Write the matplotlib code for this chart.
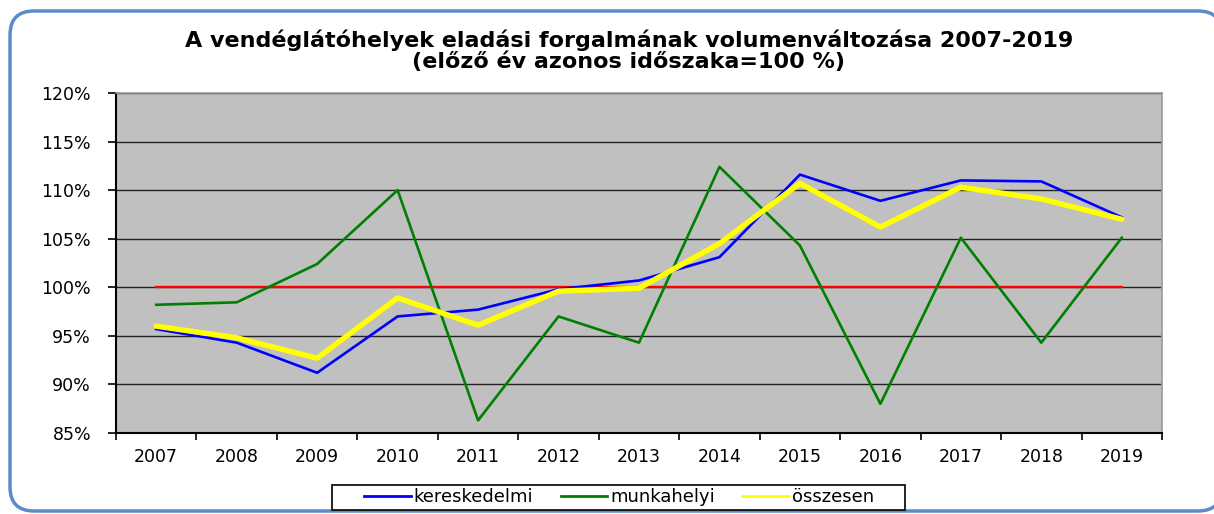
import matplotlib
matplotlib.use("Agg")
import matplotlib.pyplot as plt
from matplotlib.patches import FancyBboxPatch, Rectangle
from matplotlib.ticker import FixedLocator, FuncFormatter

years = ["2007", "2008", "2009", "2010", "2011", "2012", "2013",
         "2014", "2015", "2016", "2017", "2018", "2019"]
kereskedelmi = [95.7, 94.3, 91.2, 97.0, 97.7, 99.8, 100.7, 103.1, 111.6, 108.9, 111.0, 110.9, 107.2]
munkahelyi = [98.2, 98.45, 102.4, 110.0, 86.3, 97.0, 94.3, 112.4, 104.3, 88.0, 105.1, 94.3, 105.1]
osszesen = [96.0, 94.8, 92.7, 98.9, 96.1, 99.6, 99.9, 104.5, 110.7, 106.2, 110.3, 109.1, 107.0]
reference = [100.0] * len(years)
yticks = [85, 90, 95, 100, 105, 110, 115, 120]

plt.rcParams['font.family'] = ['DejaVu Sans']

W, H = 1214, 514
fig = plt.figure(figsize=(W / 100, H / 100), dpi=100)

# background axes in pixel units for the rounded frame and legend box
bg = fig.add_axes([0, 0, 1, 1], zorder=-1)
bg.set_xlim(0, W)
bg.set_ylim(H, 0)
bg.axis("off")
bg.add_patch(FancyBboxPatch((10, 11), 1222 - 10, 511 - 11,
                            boxstyle="round,pad=0,rounding_size=24",
                            facecolor="white", edgecolor="#5B8BC8", linewidth=2.5))
bg.add_patch(Rectangle((332, 485), 905 - 332, 510 - 485,
                       facecolor="white", edgecolor="black", linewidth=1.2))

ax = fig.add_axes([116 / W, 1 - 433 / H, (1162 - 116) / W, (433 - 93) / H])
ax.set_facecolor("#C0C0C0")
x = list(range(len(years)))

ax.set_xlim(-0.5, len(years) - 0.5)
ax.set_ylim(85, 120)

for v in yticks:
    ax.axhline(v, color="#222222", linewidth=1.0, zorder=1)

ax.plot(x, reference, color="#FF0000", linewidth=1.7, zorder=2)
ax.plot(x, munkahelyi, color="#008000", linewidth=1.9, zorder=3, label="munkahelyi")
ax.plot(x, kereskedelmi, color="#0000FF", linewidth=1.9, zorder=4, label="kereskedelmi")
ax.plot(x, osszesen, color="#FFFF00", linewidth=3.9, zorder=5, label="összesen",
        solid_capstyle="round", solid_joinstyle="round")

ax.yaxis.set_major_locator(FixedLocator(yticks))
ax.yaxis.set_major_formatter(FuncFormatter(lambda v, p: f"{int(v)}%"))
ax.set_xticks(x)
ax.set_xticklabels(years)
ax.set_xticks([i - 0.5 for i in range(len(years) + 1)], minor=True)
ax.tick_params(axis="x", which="major", length=0, pad=11, labelsize=12.5)
ax.tick_params(axis="x", which="minor", length=5, width=1.2, direction="out", color="black")
ax.tick_params(axis="y", which="major", length=6, width=1.2, direction="out", pad=12, labelsize=12.5)

for s in ["top", "right"]:
    ax.spines[s].set_color("#999999")
    ax.spines[s].set_linewidth(1.2)
ax.spines["left"].set_color("black")
ax.spines["left"].set_linewidth(1.5)
ax.spines["bottom"].set_color("black")
ax.spines["bottom"].set_linewidth(1.5)

fig.text(629 / W, 1 - 40 / H, "A vendéglátóhelyek eladási forgalmának volumenváltozása 2007-2019",
         ha="center", va="center", fontsize=16, fontweight="bold")
fig.text(629 / W, 1 - 62 / H, "(előző év azonos időszaka=100 %)",
         ha="center", va="center", fontsize=16, fontweight="bold")

handles, labels = ax.get_legend_handles_labels()
order = [1, 0, 2]
leg = fig.legend([handles[i] for i in order], [labels[i] for i in order],
                 loc="center", bbox_to_anchor=(619 / W, 1 - 497.5 / H), ncol=3,
                 frameon=False, fontsize=13,
                 handlelength=2.6, handletextpad=0.15, columnspacing=1.5,
                 borderpad=0.0)
for line in leg.get_lines():
    line.set_linewidth(2)

fig.savefig("out.png", dpi=100)
